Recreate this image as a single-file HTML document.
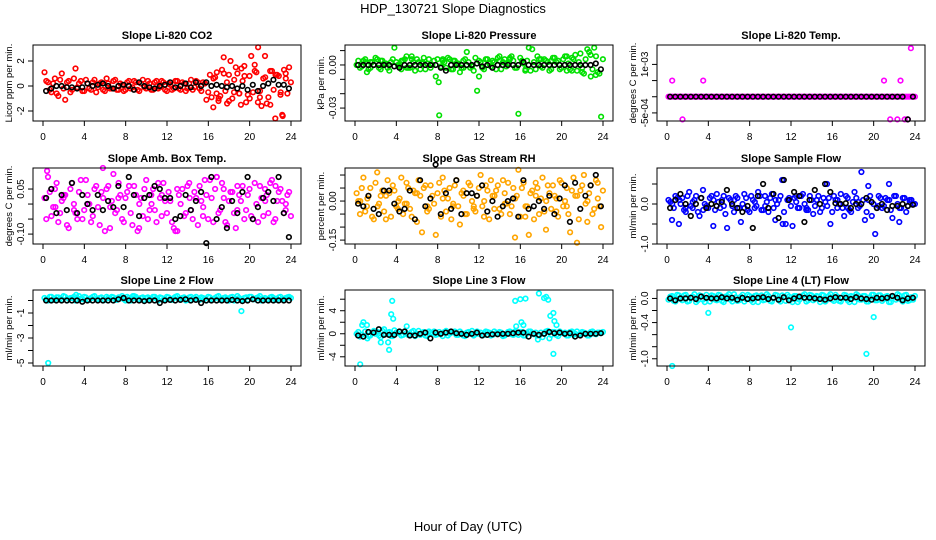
<!DOCTYPE html>
<html><head><meta charset="utf-8"><title>HDP_130721 Slope Diagnostics</title>
<style>
html,body{margin:0;padding:0;background:#fff;}
svg{display:block;font-family:"Liberation Sans",Arial,sans-serif;}
</style></head>
<body>
<svg id="chart" width="936" height="540" viewBox="0 0 936 540" xmlns="http://www.w3.org/2000/svg">
<rect x="0" y="0" width="936" height="540" fill="#fff"/>
<text x="453" y="13" font-size="13" text-anchor="middle">HDP_130721  Slope Diagnostics</text>
<text x="468" y="531" font-size="13" text-anchor="middle">Hour of Day (UTC)</text>
<g id="panels"></g>
</svg>
<script>
// ---------- DATA (colored: every 20 min from 0h, second set offset 10 min; black: every 30 min) ----------
const xTicks = [0,4,8,12,16,20,24];
const c1 = [1.1,0.3,-0.5,0.6,-0.8,1.0,-1.1,0.4,-0.3,1.4,0.2,-0.4,0.5,-0.2,0.3,-0.5,0.2,-0.3,0.6,-0.2,0.4,-0.3,0.2,-0.4,0.3,-0.2,0.4,-0.3,0.2,-0.1,0.4,-0.3,0.3,-0.2,0.4,-0.3,0.2,-0.3,0.4,-0.2,0.3,-0.4,0.2,-0.3,0.4,-0.2,0.3,-1.1,0.9,-1.7,1.1,-0.8,2.3,-1.4,2.0,-0.5,1.0,-1.5,1.6,-0.7,2.4,1.7,3.1,-1.6,2.4,-0.9,1.2,-2.6,0.8,-2.3,1.0,1.5];
const d1 = [0.4,-0.3,0.2,-0.6,0.5,-0.2,0.3,-0.5,0.6,-0.1,0.4,-0.4,0.2,-0.3,0.5,-0.1,0.3,-0.4,0.2,-0.2,0.5,-0.3,0.1,-0.3,0.4,-0.1,0.3,-0.4,0.5,-0.2,0.2,-0.3,0.4,-0.1,0.3,-0.4,0.1,-0.2,0.4,-0.3,0.2,-0.2,0.5,-0.1,0.3,-0.4,0.2,-0.5,-0.9,0.7,-1.2,1.3,-0.4,0.9,-1.0,1.5,-0.6,0.4,-1.3,0.8,-0.5,1.1,-0.9,0.6,-1.4,1.2,-0.3,0.9,-0.7,1.3,-0.6,0.3];
const b1 = [-0.4,-0.2,0,0,-0.1,-0.1,-0.2,-0.1,0.2,0,0.1,0.2,0,-0.2,0,0.1,0,-0.3,0.3,0,-0.1,-0.2,0,0.1,0.3,-0.1,0,0.2,-0.1,0.3,0,0.3,0,0.1,0,-0.1,0,-0.2,0,-0.3,0.1,-0.4,0,0.2,0.5,0.1,0.1,-0.2];
const e1 = [[16.5,0.6],[17,-1.0],[17.5,1.0],[18,-1.2],[18.5,0.5],[19,-0.6],[19.5,0.8],[20,-1.0],[20.5,1.2],[21,-0.4],[21.5,0.7],[22,-1.5],[22.5,0.9],[23,-0.5],[23.5,0.6],[16.8,-0.6],[17.8,0.3],[19.2,1.4],[20.8,-1.3],[23.2,-2.4]];

const c2 = [0,-0.002,0.003,-0.005,0.002,0,0.004,-0.003,0.001,-0.002,0.002,0.012,0,-0.003,0.004,-0.002,0.006,-0.004,0.002,0.001,-0.003,0.004,0,-0.008,-0.035,0.003,-0.002,0.004,-0.003,0.001,-0.005,0.003,0.009,-0.002,-0.004,-0.018,0.002,-0.003,0.004,-0.001,0.002,0.005,-0.003,0.004,0.001,0.006,-0.002,-0.034,0.003,-0.004,0.012,0.011,-0.003,0.004,-0.002,0.003,-0.004,0.005,0.002,-0.003,0.004,0.006,-0.003,0.004,-0.004,0.008,-0.006,0.011,-0.008,0.012,-0.005,-0.036];
const d2 = [0.003,-0.001,0.004,-0.003,0.002,0.005,-0.002,0.003,0.001,-0.004,0.004,0.002,-0.001,0.003,0.006,-0.002,0.002,0.004,-0.003,0.005,0.001,-0.002,0.003,0.004,-0.001,0.002,0.005,-0.003,0.003,0.001,-0.002,0.004,0.002,-0.001,0.005,0.003,-0.002,0.004,0.001,0.003,-0.003,0.006,0.002,-0.001,0.004,0.003,-0.002,0.005,0.001,0.003,-0.004,0.002,0.006,-0.001,0.004,0.002,-0.003,0.005,0.003,-0.002,0.006,0.001,-0.004,0.007,0.002,-0.005,0.004,0.009,-0.003,0.006,-0.006,0.004];
const b2 = [0,0,0,0,0,0,0,-0.001,-0.002,0,0,0,0,0,0,0,-0.002,-0.004,0,0,0,0,0,0.001,-0.001,0,-0.002,0,0,0,0,0,0.002,0,0,0,0,0,0,0,0,0,0,0,0,0,0.001,-0.003];
const e2 = [[1,0.002],[1.5,-0.002],[2.5,0.003],[4.5,0.003],[5,-0.002],[5.5,0.004],[6.5,0.002],[8.5,0.004],[9.5,0.003],[10.5,-0.002],[13,0.002],[14,0.003],[15,0.005],[16.5,-0.003],[18,0.004],[19,0.003],[20.5,-0.004],[21,0.005],[22,-0.002],[22.8,0.007],[23.3,-0.007],[8.1,-0.012],[12,-0.008]];

const c3 = [0,0,0,0,0,0,0,0,0,0,0,0,0,0,0,0,0,0,0,0,0,0,0,0,0,0,0,0,0,0,0,0,0,0,0,0,0,0,0,0,0,0,0,0,0,0,0,0,0,0,0,0,0,0,0,0,0,0,0,0,0,0,0,0,0,0,0,0,0,0,0,0];
const d3 = [0,0,0,0,0,0,0,0,0,0,0,0,0,0,0,0,0,0,0,0,0,0,0,0,0,0,0,0,0,0,0,0,0,0,0,0,0,0,0,0,0,0,0,0,0,0,0,0,0,0,0,0,0,0,0,0,0,0,0,0,0,0,0,0,0,0,0,0,0,0,0,0];
const b3 = [0,0,0,0,0,0,0,0,0,0,0,0,0,0,0,0,0,0,0,0,0,0,0,0,0,0,0,0,0,0,0,0,0,0,0,0,0,0,0,0,0,0,0,0,0,0,-0.0007,0];
const e3 = [[0.5,0.0005],[1.5,-0.0007],[3.5,0.0005],[21,0.0005],[21.6,-0.0007],[22.3,-0.0007],[22.6,0.0005],[23,-0.0007],[23.3,-0.0007],[23.6,0.0015]];

const c4 = [0.02,0.09,-0.04,0.05,-0.06,0.01,0.03,-0.08,0.07,-0.03,0.04,-0.05,0.08,0.0,-0.04,0.06,-0.07,0.02,0.05,-0.08,0.10,-0.02,0.03,-0.06,0.04,-0.03,0.06,-0.09,0.02,0.05,-0.05,0.03,-0.02,0.07,-0.04,0.01,0.04,-0.06,-0.09,0.03,0.05,-0.03,0.07,-0.05,0.02,0.06,-0.04,0.03,0.08,-0.06,0.09,-0.02,0.05,-0.07,0.04,-0.03,0.06,0.01,-0.05,0.03,-0.04,0.07,-0.06,0.02,0.05,-0.03,0.08,-0.05,0.04,0.01,-0.02,0.04];
const d4 = [-0.05,0.04,-0.01,0.07,-0.03,0.02,-0.07,0.05,0.0,-0.05,0.08,-0.02,0.03,-0.06,0.05,-0.01,0.04,-0.09,0.06,0.01,-0.03,0.07,-0.05,0.02,0.06,-0.07,0.03,0.0,-0.04,0.08,-0.02,0.05,-0.06,0.02,0.07,-0.03,0.01,-0.08,0.05,0.0,-0.04,0.06,-0.02,0.04,-0.07,0.01,0.08,-0.05,0.02,0.05,-0.03,0.07,-0.06,0.01,0.04,-0.08,0.03,0.06,-0.02,0.05,-0.05,0.00,0.06,-0.04,0.03,0.07,-0.06,0.01,0.05,-0.03,0.03,-0.04];
const b4 = [0.02,0.05,-0.03,0.03,-0.02,0.07,-0.03,0.03,0,-0.02,0.03,-0.02,0.01,-0.01,0.06,-0.01,0.09,0.03,-0.04,0.02,0.03,0.06,0.05,0.02,0.02,-0.05,-0.04,0.03,-0.02,0.01,0.04,-0.13,0.09,-0.05,-0.01,-0.08,0.01,-0.03,0.04,0.09,-0.05,-0.01,0.02,0.04,0.01,0.09,-0.03,-0.11];
const e4 = [[0.4,0.11],[1.2,-0.01],[2,0.03],[3,-0.02],[4.3,0.0],[5.8,0.12],[6.5,-0.01],[7.3,0.02],[9.3,-0.08],[10.5,0.0],[11.5,0.03],[13,-0.09],[14.2,0.02],[15.5,-0.01],[16.8,0.09],[17.5,0.02],[18.8,-0.02],[21.5,0.01],[22.5,0.06],[23.5,0.0]];

const c5 = [0.03,-0.05,0.09,-0.02,0.05,-0.07,0.11,0.02,-0.04,0.08,-0.06,0.04,-0.03,0.09,-0.01,0.05,-0.06,0.03,0.08,-0.12,0.06,-0.03,0.02,-0.13,0.07,0.09,-0.04,0.05,-0.02,0.08,-0.09,0.04,-0.05,0.06,-0.03,0.02,0.10,-0.06,0.04,0.08,-0.03,0.06,-0.05,0.03,0.07,-0.02,-0.14,0.12,0.05,-0.06,-0.13,0.04,0.07,-0.05,0.09,-0.11,0.03,0.06,-0.04,0.08,-0.02,0.05,-0.12,0.09,-0.16,0.04,0.10,-0.08,0.06,-0.03,0.07,-0.10];
const d5 = [0.0,0.05,-0.04,0.02,-0.06,0.07,-0.01,0.04,-0.07,0.03,0.06,-0.02,0.01,-0.05,0.07,-0.03,0.04,-0.08,0.02,0.05,-0.04,0.06,-0.01,0.03,-0.06,0.04,0.01,-0.07,0.06,-0.02,0.03,-0.05,0.07,0.0,-0.04,0.05,-0.02,0.06,-0.07,0.02,0.04,-0.03,0.08,-0.01,-0.05,0.05,0.02,-0.06,0.07,-0.02,0.03,-0.07,0.05,0.01,-0.04,0.06,-0.03,0.02,-0.06,0.07,0.00,-0.05,0.04,0.02,-0.07,0.06,-0.01,0.03,-0.05,0.08,-0.02,0.04];
const b5 = [-0.01,-0.02,0.02,-0.03,-0.05,0.04,0.04,-0.01,-0.04,-0.03,0.04,-0.07,0.08,-0.02,0.01,0.14,-0.05,0.03,-0.03,0.08,-0.05,0.03,0.03,0.02,0.06,-0.04,0.0,-0.06,-0.02,0.0,0.01,-0.06,0.08,-0.03,-0.02,0.0,-0.03,0.02,-0.05,0.01,0.06,-0.08,0.07,-0.03,0.02,0.06,0.10,-0.02];
const e5 = [[0.5,0.0],[1.2,0.01],[2.2,-0.02],[3,0.02],[4.2,0.0],[5,-0.01],[6,0.03],[7,-0.02],[8.5,0.01],[9.5,-0.01],[10.5,0.02],[11.5,-0.02],[12.5,0.0],[13.5,0.02],[14.5,-0.01],[15.5,0.01],[16.5,-0.02],[17.5,0.02],[18.5,0.0],[19.5,0.01],[20.5,-0.02],[21.5,0.02],[22.5,0.0],[23.5,0.01]];

const c6 = [0.1,-0.4,0.2,-0.5,0.15,-0.2,0.3,-0.1,0.2,-0.3,0.35,-0.05,0.15,-0.55,0.25,-0.1,0.2,-0.6,0.1,-0.2,0.15,-0.45,0.25,-0.15,0.2,-0.1,0.3,-0.15,0.2,-0.2,0.25,-0.4,0.1,0.6,-0.5,0.15,-0.55,0.2,-0.1,0.25,-0.15,0.2,-0.25,0.1,-0.2,0.15,0.5,-0.5,0.2,-0.1,0.25,-0.3,0.15,-0.2,0.3,-0.1,0.8,-0.4,0.45,-0.3,-0.75,0.2,-0.1,0.15,0.5,-0.35,0.2,-0.45,0.15,-0.2,0.1,0.0];
const d6 = [0.05,-0.1,0.15,0.0,-0.15,0.2,-0.05,0.1,-0.2,0.15,0.0,-0.1,0.2,-0.15,0.05,0.1,-0.25,0.15,-0.05,0.2,-0.1,0.0,0.15,-0.2,0.1,-0.05,0.2,-0.15,0.05,0.15,-0.1,0.0,0.2,-0.2,0.1,-0.05,0.15,-0.1,0.2,0.0,-0.15,0.1,-0.05,0.2,-0.1,0.05,0.15,-0.2,0.1,0.0,-0.1,0.2,-0.15,0.05,0.15,-0.05,0.1,-0.2,0.2,0.0,-0.1,0.15,-0.05,0.1,-0.15,0.2,0.0,-0.1,0.15,-0.05,0.1,0.0];
const b6 = [-0.1,0.1,0.25,0.0,-0.3,0.0,0.15,-0.1,0.0,-0.05,0.05,0.35,0.0,-0.1,-0.2,-0.05,-0.6,0.2,0.5,-0.1,0.25,-0.35,0.6,0.1,0.3,0.2,-0.45,0.1,0.35,0.0,0.5,0.3,0.02,0.0,0.02,-0.1,0.0,0.0,0.15,0.05,-0.1,0.0,-0.15,-0.05,-0.05,0.0,-0.05,-0.02];
const e6 = [[0.5,0.0],[1.2,0.1],[1.8,-0.1],[2.5,0.05],[3.5,-0.15],[4.5,0.1],[5.5,-0.05],[6.5,0.1],[7.5,-0.1],[8.5,0.05],[9.5,-0.05],[10.5,0.1],[11.2,-0.5],[12.5,0.05],[13.5,-0.1],[14.5,0.1],[15.5,-0.05],[16.5,0.1],[17.5,-0.1],[18.5,0.05],[19.5,0.1],[20.5,-0.05],[21.5,0.1],[22.5,-0.1],[23.5,0.05]];

const c7 = [0.2,0.0,0.3,0.1,0.25,0.05,0.3,0.15,0.2,0.0,0.35,0.1,0.25,0.05,0.3,0.1,0.2,0.0,0.3,0.15,0.25,0.05,0.2,0.1,0.3,0.0,0.35,0.1,0.2,0.05,0.25,0.15,0.3,0.0,0.2,0.1,0.25,0.05,0.3,0.1,0.2,0.0,0.25,0.1,0.3,0.05,0.2,0.0,0.25,0.1,0.3,0.05,0.2,0.15,0.25,0.0,0.35,0.1,0.2,0.05,0.3,0.1,0.25,0.0,0.2,0.1,0.3,0.05,0.25,0.1,0.2,0.3];
const d7 = [0.1,0.3,0.05,0.25,0.15,0.35,0.0,0.2,0.3,0.1,0.15,0.3,0.05,0.2,0.35,0.1,0.25,0.05,0.2,0.3,0.1,0.25,0.35,0.0,0.2,0.15,0.3,0.05,0.25,0.2,0.1,0.3,0.15,0.25,0.05,0.3,0.1,0.2,0.35,0.15,0.25,0.05,0.3,0.2,0.1,0.25,0.15,0.3,0.05,0.2,0.35,0.1,0.25,0.0,0.3,0.15,0.2,0.05,0.25,0.3,0.1,0.2,0.35,0.15,0.05,0.25,0.2,0.1,0.3,0.15,0.25,0.2];
const b7 = [0,0,0,0,0,0,0,-0.1,0,0,0,0,0,0,0.1,0.2,0,0,0,-0.05,0,0,-0.2,0,0.05,0,0.05,0.1,0,0.05,-0.2,0,0,0,0,0,0.05,0,-0.05,0,0.1,0,0,0,0,0,0,0];
const e7 = [[0.5,-5.0],[19.2,-0.85],[3.2,0.45],[8.7,0.35]];

const c8 = [0.0,-0.5,2.0,1.5,-0.3,0.5,0.3,-0.6,0.8,0.2,-0.4,0.6,0.1,-0.3,0.4,-0.2,0.3,-0.4,0.5,0.0,-0.3,0.4,0.1,-0.2,0.3,-0.4,0.5,0.0,0.3,-0.2,0.4,-0.3,0.2,0.0,-0.3,0.4,0.2,-0.2,0.3,-0.3,0.4,0.0,0.2,-0.3,0.3,-0.1,0.4,-0.2,0.3,-0.3,0.4,0.0,0.2,-0.3,-0.6,0.4,-0.8,0.3,-0.2,0.4,0.1,-0.3,0.3,-0.2,0.4,0.0,0.2,-0.3,0.3,0.0,0.2,0.1];
const d8 = [0.3,-0.2,0.4,-0.4,0.2,0.0,-0.3,0.5,-0.1,0.3,-0.4,0.2,0.4,-0.2,0.1,-0.3,0.5,0.0,-0.2,0.3,-0.4,0.2,0.4,-0.1,0.0,0.3,-0.3,0.2,0.4,-0.2,0.1,-0.4,0.3,0.5,-0.1,0.0,-0.3,0.4,0.2,-0.2,0.1,0.3,-0.4,0.0,0.4,-0.2,0.2,0.3,-0.3,0.1,0.4,-0.1,-0.3,0.2,0.0,0.5,-0.2,0.3,-0.4,0.1,0.2,-0.3,0.4,0.0,-0.2,0.3,0.1,-0.3,0.4,-0.1,0.2,0.3];
const b8 = [-0.3,-0.5,0.3,0.2,0.8,-0.2,-0.2,-0.2,0.4,0.4,-0.3,-0.3,0.0,0.2,-0.8,0.2,0.0,0.2,0.4,0.1,0.0,-0.2,0.0,0.2,-0.3,-0.2,-0.1,-0.1,0.0,0.0,0.1,0.2,0.2,-0.5,0.0,-0.2,0.0,0.3,0.1,0.2,0.0,0.1,-0.5,-0.3,0.0,0.0,0.0,0.1];
const e8 = [[0.5,-5.3],[3.6,5.7],[3.5,3.4],[3.7,2.6],[3.3,-2.8],[3.2,-1.5],[2.5,-1.5],[15.5,5.7],[16,6],[16.5,6.1],[17.8,7],[18.3,6.2],[18.5,6.4],[18.7,5.9],[18.9,3.1],[19.2,3.6],[19.3,2.2],[19.5,1.5],[19.2,-3.5],[15.6,1.3],[16.1,2],[16.3,1.5],[0.7,1.5],[5,1.3],[1.2,-0.8],[17.7,-1.0]];

const c9 = [-0.02,0.04,-0.05,0.05,-0.03,0.06,-0.04,0.03,-0.06,0.05,-0.02,0.06,-0.05,0.04,-0.03,0.05,-0.06,0.04,-0.02,0.07,-0.04,0.03,-0.05,0.06,-0.03,0.04,-0.06,0.05,-0.02,0.04,-0.05,0.06,-0.03,0.05,-0.04,0.03,-0.06,0.04,-0.02,0.05,-0.05,0.06,-0.03,0.04,-0.06,0.05,-0.02,0.07,-0.04,0.03,-0.05,0.06,-0.03,0.04,-0.06,0.05,-0.02,0.04,-0.05,0.06,-0.03,0.05,-0.04,0.03,-0.06,0.04,-0.02,0.05,-0.05,0.06,-0.03,-0.02];
const d9 = [0.03,-0.04,0.06,-0.01,0.05,-0.05,0.02,0.07,-0.03,0.04,-0.06,0.01,0.05,-0.02,0.06,-0.04,0.03,0.07,-0.05,0.02,-0.03,0.06,-0.01,0.04,-0.06,0.05,0.02,-0.03,0.07,-0.04,0.01,0.05,-0.05,0.03,0.06,-0.02,0.04,-0.06,0.02,0.07,-0.03,0.05,-0.01,0.03,0.06,-0.05,0.04,-0.02,0.06,-0.04,0.01,0.05,-0.06,0.03,0.07,-0.02,0.04,-0.05,0.02,0.06,-0.03,0.05,-0.01,0.04,-0.06,0.03,0.07,-0.02,0.05,-0.04,0.02,0.04];
const b9 = [0,-0.03,0,0,0.01,-0.01,0.03,0.01,0,0,0.02,0,0.01,-0.02,0.01,-0.01,0,0.01,0.02,-0.01,0.01,-0.02,0.02,-0.03,0,0.03,0.01,0.01,0,-0.01,-0.02,0,0.02,0.01,0.01,-0.01,0.02,0,-0.01,-0.02,0.01,0,0.01,0.04,0.01,-0.03,0,0.01];
const e9 = [[0.5,-1.12],[4,-0.24],[12,-0.48],[19.3,-0.92],[20,-0.31]];

const colored = [c1,c2,c3,c4,c5,c6,c7,c8,c9];
const colored2 = [d1,d2,d3,d4,d5,d6,d7,d8,d9];
const blacks = [b1,b2,b3,b4,b5,b6,b7,b8,b9];
const extras = [e1,e2,e3,e4,e5,e6,e7,e8,e9];
const titles = ["Slope Li-820 CO2","Slope Li-820 Pressure","Slope Li-820 Temp.","Slope Amb. Box Temp.","Slope Gas Stream RH","Slope Sample Flow","Slope Line 2 Flow","Slope Line 3 Flow","Slope Line 4 (LT) Flow"];
const ylabels = ["Licor ppm per min.","kPa per min.","degrees C per min.","degrees C per min.","percent per min.","ml/min per min.","ml/min per min.","ml/min per min.","ml/min per min."];
const yTickVals = [[-2,0,2],[0.01,0,-0.01,-0.02,-0.03],[0.001,0.0005,0,-0.0005],[0.05,0,-0.05,-0.10],[0.10,0.05,0,-0.05,-0.10,-0.15],[0.5,0,-0.5,-1.0],[0,-1,-2,-3,-4,-5],[6,4,2,0,-2,-4],[0,-0.2,-0.4,-0.6,-0.8,-1.0]];
const yTickLabels = [["-2","0","2"],["","0.00","","","-0.03"],["1e-03","","","-5e-04"],["0.05","","","-0.10"],["","","0.00","","","-0.15"],["","0.0","","-1.0"],["","-1","","-3","","-5"],["","4","","0","","-4"],["0.0","","-0.4","","","-1.0"]];
const yMin = [-2.8,-0.039,-0.00075,-0.133,-0.165,-1.0,-5.24,-5.6,-1.12];
const yMax = [3.28,0.0139,0.0016,0.12,0.127,0.9,0.84,7.6,0.14];
const colors = ["#ff0000","#00e000","#ff00ff","#ff00ff","#ffa500","#0000ff","#00ffff","#00ffff","#00ffff"];

// ---------- DRAW ----------
const NS = "http://www.w3.org/2000/svg";
const root = document.getElementById("panels");
const colLeft = [33,345,657], rowTop = [45,168,290], W = 268, H = 76;
function mk(tag, attrs, parent){ const e=document.createElementNS(NS,tag); for(const k in attrs) e.setAttribute(k,attrs[k]); parent.appendChild(e); return e; }

for (let p=0;p<9;p++){
  const L = colLeft[p%3], T = rowTop[Math.floor(p/3)];
  const g = mk("g",{},root);
  
  
  const xs = h => L + 10 + h*(W-20)/24;
  const ys = v => T + H - (v - yMin[p])/(yMax[p]-yMin[p])*H;
  const t = mk("text",{x:L+W/2,y:T-6,"font-size":"11","font-weight":"bold","text-anchor":"middle"},g);
  t.textContent = titles[p];
  
  
  const yl = mk("text",{transform:`translate(${L-21},${T+H/2}) rotate(-90)`,"font-size":"9.5","text-anchor":"middle"},g);
  yl.textContent = ylabels[p];
  
  
  const pts = mk("g",{},g);
  
  
  const drawPt = (h,v,col,nm) => {
    const c = mk("circle",{cx:xs(h).toFixed(1),cy:ys(v).toFixed(1),r:"2.3",fill:"none",stroke:col,"stroke-width":"1.6"},pts);
    
    
  };
  colored[p].forEach((v,i)=>drawPt(i*24/72 + 0.15, v, colors[p], 'colored-point'));
  colored2[p].forEach((v,i)=>drawPt(i*24/72 + 0.32, v, colors[p], 'colored-point'));
  extras[p].forEach(d=>drawPt(d[0], d[1], colors[p], 'colored-point'));
  blacks[p].forEach((v,i)=>drawPt((i+1)*0.5 - 0.2, v, "#000", 'half-hour-point'));
  const box = mk("rect",{x:L,y:T,width:W,height:H,fill:"none",stroke:"#000","stroke-width":"1"},g);
  
  
  const xa = mk("g",{},g);
  
  
  mk("line",{x1:xs(0),x2:xs(24),y1:T+H,y2:T+H,stroke:"#000"},xa);
  xTicks.forEach(h=>{
    mk("line",{x1:xs(h),x2:xs(h),y1:T+H,y2:T+H+5,stroke:"#000"},xa);
    const tl = mk("text",{x:xs(h),y:T+H+19,"font-size":"10","text-anchor":"middle"},xa);
    tl.textContent = h;
    
    
  });
  const ya = mk("g",{},g);
  
  
  const tv = yTickVals[p];
  mk("line",{x1:L,x2:L,y1:ys(tv[0]),y2:ys(tv[tv.length-1]),stroke:"#000"},ya);
  tv.forEach((v,i)=>{
    mk("line",{x1:L-5,x2:L,y1:ys(v),y2:ys(v),stroke:"#000"},ya);
    if (yTickLabels[p][i]) {
      const tl = mk("text",{transform:`translate(${L-9},${ys(v)}) rotate(-90)`,"font-size":"10","text-anchor":"middle"},ya);
      tl.textContent = yTickLabels[p][i];
      
      
    }
  });
}
</script>
</body></html>
